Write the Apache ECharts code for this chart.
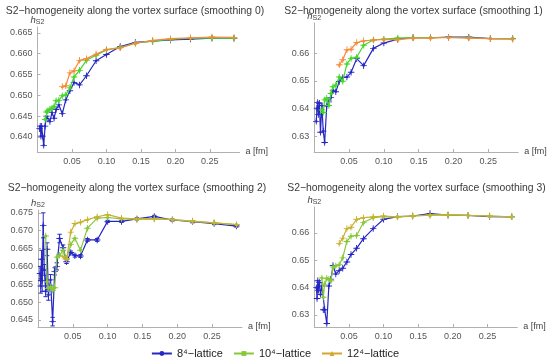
<!DOCTYPE html>
<html><head><meta charset="utf-8">
<script src="https://cdn.jsdelivr.net/npm/echarts@6/dist/echarts.min.js"></script>
<style>html,body{margin:0;padding:0;background:#fff}#c{width:550px;height:363px}</style>
</head><body><div id="c"></div>
<script>
// lattice spacings a [fm]
const a8  = [0.285,0.253,0.222,0.193,0.167,0.142,0.120,0.100,0.085,0.071,0.061,0.053,0.047,0.041,0.036,0.031,0.027,0.024,0.021,0.018,0.015,0.013,0.011,0.009,0.0075,0.006,0.005,0.004,0.003];
const a10 = [0.285,0.253,0.222,0.193,0.167,0.142,0.120,0.100,0.085,0.071,0.061,0.053,0.047,0.041,0.036,0.031,0.027,0.024,0.021,0.018,0.015,0.013,0.011];
const a12 = [0.285,0.253,0.222,0.193,0.167,0.142,0.120,0.100,0.085,0.071,0.061,0.053,0.047,0.041,0.036];

const titles = [
  "S2\u2212homogeneity along the vortex surface (smoothing 0)",
  "S2\u2212homogeneity along the vortex surface (smoothing 1)",
  "S2\u2212homogeneity along the vortex surface (smoothing 2)",
  "S2\u2212homogeneity along the vortex surface (smoothing 3)"
];
const legendNames = ["8\u2074\u2212lattice", "10\u2074\u2212lattice", "12\u2074\u2212lattice"];

// smoothing 0
const h8_s0  = [.6637,.6637,.6635,.6633,.6630,.6627,.6617,.6598,.6583,.6547,.6525,.6531,.6511,.6489,.6456,.6477,.6466,.6445,.6459,.6437,.6443,.6450,.6426,.6380,.6402,.6426,.6402,.6426,.6420];
const h10_s0 = [.6637,.6638,.6637,.6634,.6630,.6625,.6615,.6609,.6596,.6584,.6560,.6544,.6518,.6501,.6499,.6488,.6487,.6473,.6469,.6467,.6463,.6460,.6442];
const h12_s0 = [.6639,.6640,.6638,.6636,.6632,.6625,.6614,.6610,.6599,.6588,.6584,.6559,.6554,.6523,.6521];
// smoothing 1
const h8_s1  = [.6652,.6652,.6657,.6657,.6655,.6656,.6650,.6636,.6617,.6555,.6580,.6531,.6514,.6512,.6498,.6461,.6467,.6440,.6425,.6410,.6279,.6320,.6412,.6316,.6420,.6380,.6423,.6402,.6355];
const h10_s1 = [.6652,.6652,.6655,.6656,.6656,.6656,.6654,.6650,.6647,.6628,.6585,.6581,.6561,.6499,.6514,.6485,.6479,.6455,.6412,.6438,.6432,.6387,.6396];
const h12_s1 = [.6650,.6652,.6654,.6656,.6654,.6654,.6648,.6649,.6647,.6644,.6638,.6614,.6612,.6576,.6558];
// smoothing 2
const h8_s2  = [.6713,.6720,.6725,.6730,.6740,.6733,.6726,.6726,.6674,.6674,.6629,.6630,.6639,.6613,.6652,.6678,.6600,.6586,.6445,.6562,.6520,.6648,.6530,.6590,.6715,.6560,.6620,.6545,.6580];
const err8_s2 = [.0003,.0003,.0003,.0003,.0003,.0003,.0003,.0003,.0004,.0004,.0004,.0004,.0004,.0005,.0008,.0012,.0010,.0010,.0012,.0015,.0015,.0018,.0015,.0015,.0035,.0030,.0025,.0020,.0020];
const h10_s2 = [.6717,.6722,.6726,.6731,.6733,.6732,.6733,.6737,.6735,.6707,.6645,.6679,.6661,.6622,.6645,.6631,.6626,.6540,.6533,.6543,.6538,.6557,.6685];
const h12_s2 = [.6717,.6722,.6727,.6731,.6734,.6733,.6735,.6745,.6739,.6731,.6724,.6720,.6696,.6620,.6628];
// smoothing 3
const h8_s3  = [.6659,.6660,.6664,.6665,.6671,.6662,.6660,.6650,.6616,.6579,.6544,.6521,.6494,.6471,.6463,.6450,.6481,.6431,.6406,.6269,.6319,.6319,.6406,.6375,.6419,.6390,.6425,.6360,.6400];
const h10_s3 = [.6659,.6662,.6664,.6666,.6665,.6662,.6658,.6660,.6656,.6638,.6591,.6588,.6569,.6509,.6484,.6479,.6475,.6425,.6431,.6434,.6413,.6365,.6435];
const h12_s3 = [.6659,.6662,.6664,.6667,.6665,.6662,.6659,.6662,.6659,.6656,.6650,.6621,.6616,.6581,.6562];

const xTicks = [0.05,0.10,0.15,0.20,0.25];
const yTicks0 = [0.640,0.645,0.650,0.655,0.660,0.665];
const yTicks1 = [0.63,0.64,0.65,0.66];
const yTicks2 = [0.645,0.650,0.655,0.660,0.665,0.670,0.675];
const yTicks3 = [0.63,0.64,0.65,0.66];

const panels = [
  {h8:h8_s0,h10:h10_s0,h12:h12_s0,ticks:yTicks0,dec:3,min:0.6364,max:0.6664,grid:{left:37.5,top:27,width:202,height:125},tx:130,ty:1,c10:'#45d62a',c12:'#f58a3a'},
  {h8:h8_s1,h10:h10_s1,h12:h12_s1,ticks:yTicks1,dec:2,min:0.6245,max:0.6708,grid:{left:314.2,top:23,width:204,height:129},tx:408.5,ty:1,c10:'#45d62a',c12:'#f58a3a'},
  {h8:h8_s2,h10:h10_s2,h12:h12_s2,ticks:yTicks2,dec:3,min:0.6430,max:0.6758,grid:{left:38,top:210,width:204,height:117},tx:132,ty:178,c10:'#86c83a',c12:'#c9b030',err:err8_s2},
  {h8:h8_s3,h10:h10_s3,h12:h12_s3,ticks:yTicks3,dec:2,min:0.6256,max:0.6695,grid:{left:314.3,top:207,width:203,height:120},tx:411.5,ty:178,c10:'#86c83a',c12:'#c9b030'}
];

const BLUE = '#2626c4';
const FONT = 'Liberation Sans, Arial, sans-serif';
const plus = 'M4.3,0h1.4v4.3h4.3v1.4h-4.3v4.3h-1.4v-4.3h-4.3v-1.4h4.3z';
const symB = 'path://' + plus + 'M3.4,3.4h3.2v3.2h-3.2z';
const symG = 'path://' + plus + 'M3,3h4v4h-4z';
const symO = 'path://' + plus + 'M5,2.4L7.6,7.2H2.4z';

const zip = (xs, ys) => xs.map((x, i) => [x, ys[i]]);
const grid = [], xAxis = [], yAxis = [], title = [], series = [];

// legend-only series (first so the legend takes their symbols)
[[legendNames[0], BLUE, 'circle'], [legendNames[1], '#86c83a', 'rect'], [legendNames[2], '#d2a72c', 'triangle']].forEach(([n, c, s]) => {
  series.push({type:'line', name:n, data:[], xAxisIndex:0, yAxisIndex:0, symbol:s, symbolSize:6,
    itemStyle:{color:c}, lineStyle:{color:c, width:1.5}});
});

panels.forEach((p, i) => {
  grid.push(Object.assign({containLabel:false}, p.grid));
  title.push({text:titles[i], left:p.tx, top:p.ty, textAlign:'center',
    textStyle:{fontSize:10.4, fontWeight:'normal', color:'#3a3a3a', fontFamily:FONT}});
  xAxis.push({type:'value', gridIndex:i, min:0, max:0.293,
    name:'a [fm]', nameLocation:'end', nameGap:6,
    nameTextStyle:{fontSize:9, color:'#444', fontFamily:FONT, verticalAlign:'middle'},
    axisLine:{show:true, onZero:false, lineStyle:{color:'#b0b0b0', width:1}},
    axisTick:{show:true, customValues:xTicks, inside:true, length:3, lineStyle:{color:'#b0b0b0'}},
    axisLabel:{customValues:xTicks, formatter:v => v.toFixed(2), fontSize:9, color:'#555', margin:5, fontFamily:FONT},
    splitLine:{show:false}});
  yAxis.push({type:'value', gridIndex:i, min:p.min, max:p.max,
    name:'{h|h}{s|S2}', nameLocation:'end', nameGap:1,
    nameTextStyle:{rich:{h:{fontSize:9.5, fontStyle:'italic', color:'#444', fontFamily:FONT},
      s:{fontSize:7, color:'#444', verticalAlign:'bottom', padding:[4,0,0,0], fontFamily:FONT}}},
    axisLine:{show:true, onZero:false, lineStyle:{color:'#b0b0b0', width:1}},
    axisTick:{show:true, customValues:p.ticks, inside:true, length:3, lineStyle:{color:'#b0b0b0'}},
    axisLabel:{customValues:p.ticks, formatter:v => v.toFixed(p.dec), fontSize:9, color:'#555', margin:5, fontFamily:FONT},
    splitLine:{show:false}});
  if (p.err) {
    series.push({type:'custom', xAxisIndex:i, yAxisIndex:i, z:1, silent:true,
      data: a8.map((x, k) => [x, p.h8[k], p.err[k]]),
      renderItem:(params, api) => {
        const x = api.value(0), y = api.value(1), e = api.value(2);
        const hi = api.coord([x, y + e]), lo = api.coord([x, y - e]);
        const w = 2.2, st = {stroke:BLUE, lineWidth:1};
        return {type:'group', children:[
          {type:'line', shape:{x1:hi[0], y1:hi[1], x2:lo[0], y2:lo[1]}, style:st},
          {type:'line', shape:{x1:hi[0]-w, y1:hi[1], x2:hi[0]+w, y2:hi[1]}, style:st},
          {type:'line', shape:{x1:lo[0]-w, y1:lo[1], x2:lo[0]+w, y2:lo[1]}, style:st}
        ]};
      }});
  }
  series.push({type:'line', name:'b'+i, xAxisIndex:i, yAxisIndex:i, data:zip(a8, p.h8), z:3,
    symbol:symB, symbolSize:6.5, showAllSymbol:true, itemStyle:{color:BLUE}, lineStyle:{color:BLUE, width:1.2}});
  series.push({type:'line', name:'g'+i, xAxisIndex:i, yAxisIndex:i, data:zip(a10, p.h10), z:4,
    symbol:symG, symbolSize:6.5, showAllSymbol:true, itemStyle:{color:p.c10}, lineStyle:{color:p.c10, width:1.2}});
  series.push({type:'line', name:'o'+i, xAxisIndex:i, yAxisIndex:i, data:zip(a12, p.h12), z:5,
    symbol:symO, symbolSize:6.5, showAllSymbol:true, itemStyle:{color:p.c12}, lineStyle:{color:p.c12, width:1.2}});
});

const chart = echarts.init(document.getElementById('c'), null, {renderer:'canvas'});
chart.setOption({
  animation:false,
  backgroundColor:'#fff',
  title, grid, xAxis, yAxis, series,
  legend:{data:legendNames, left:'center', top:343, itemWidth:20, itemHeight:6, itemGap:10,
    textStyle:{fontSize:11, color:'#222', fontFamily:FONT}}
});
</script></body></html>
